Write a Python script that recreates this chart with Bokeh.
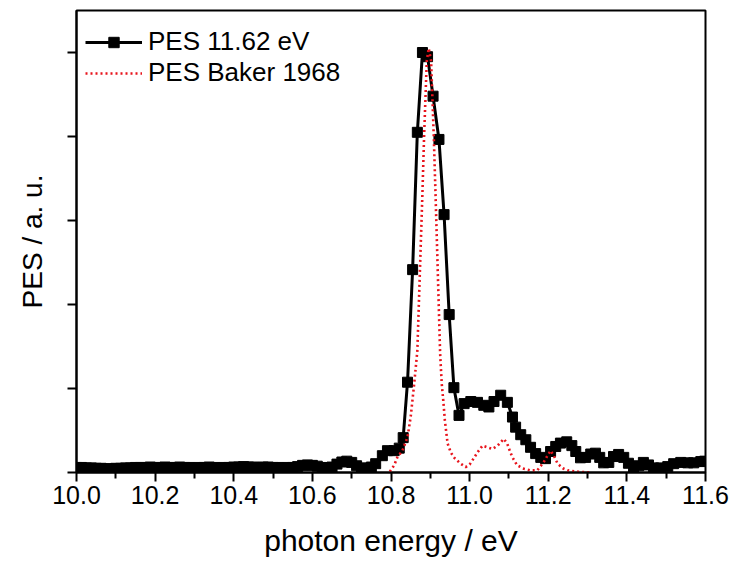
from bokeh.plotting import figure
from bokeh.models import FixedTicker, Legend, LegendItem, PrintfTickFormatter, CustomJSTickFormatter
from bokeh.embed import file_html
from bokeh.resources import INLINE

# ---- data: PES 11.62 eV (black squares) ----
pes_energy = [
    10.0, 10.0125, 10.025, 10.0375, 10.05, 10.0625, 10.075, 10.0875,
    10.1, 10.1125, 10.125, 10.1375, 10.15, 10.1625, 10.175, 10.1875,
    10.2, 10.2125, 10.225, 10.2375, 10.25, 10.2625, 10.275, 10.2875,
    10.3, 10.3125, 10.325, 10.3375, 10.35, 10.3625, 10.375, 10.3875,
    10.4, 10.4125, 10.425, 10.4375, 10.45, 10.4625, 10.475, 10.4875,
    10.5, 10.5125, 10.525, 10.5375, 10.55, 10.5625, 10.575, 10.5875,
    10.6, 10.6125, 10.625, 10.6375, 10.65, 10.6625, 10.675, 10.6875,
    10.7, 10.7125, 10.725, 10.7375, 10.75,
    10.761, 10.778, 10.791, 10.808, 10.821, 10.831, 10.842, 10.855,
    10.867, 10.880, 10.893, 10.907, 10.922, 10.935, 10.948, 10.960,
    10.973, 10.986, 11.003, 11.020, 11.036, 11.049, 11.062, 11.079,
    11.096, 11.109, 11.117, 11.130, 11.143, 11.155, 11.168, 11.181,
    11.193, 11.206, 11.219, 11.231, 11.247, 11.260, 11.270, 11.282,
    11.295, 11.308, 11.320, 11.331, 11.341, 11.354, 11.366, 11.379,
    11.392, 11.404, 11.417, 11.430, 11.442, 11.455, 11.468, 11.486,
    11.504, 11.519, 11.537, 11.555, 11.570, 11.588, 11.598,
]
pes_signal = [
    0.012, 0.012, 0.011, 0.011, 0.010, 0.010, 0.009, 0.009,
    0.010, 0.010, 0.011, 0.011, 0.012, 0.012, 0.012, 0.013,
    0.012, 0.012, 0.013, 0.012, 0.012, 0.013, 0.012, 0.012,
    0.011, 0.012, 0.012, 0.013, 0.012, 0.011, 0.012, 0.012,
    0.013, 0.013, 0.014, 0.013, 0.013, 0.012, 0.013, 0.013,
    0.012, 0.012, 0.011, 0.012, 0.012, 0.014, 0.017, 0.018,
    0.017, 0.015, 0.012, 0.011, 0.013, 0.020, 0.025, 0.027,
    0.024, 0.016, 0.011, 0.010, 0.013,
    0.021, 0.040, 0.052, 0.052, 0.058, 0.083, 0.215, 0.483,
    0.810, 1.000, 0.990, 0.896, 0.793, 0.614, 0.376, 0.202,
    0.136, 0.164, 0.169, 0.167, 0.160, 0.156, 0.169, 0.184,
    0.167, 0.132, 0.108, 0.090, 0.078, 0.060, 0.045, 0.036,
    0.033, 0.050, 0.062, 0.070, 0.073, 0.064, 0.050, 0.035,
    0.036, 0.044, 0.046, 0.036, 0.023, 0.024, 0.038, 0.043,
    0.036, 0.022, 0.012, 0.016, 0.024, 0.018, 0.011, 0.011,
    0.014, 0.021, 0.024, 0.023, 0.023, 0.026, 0.027,
]

# ---- data: PES Baker 1968 (red dotted) ----
baker_energy = [
    10.797, 10.808, 10.816, 10.829, 10.842, 10.850, 10.859, 10.867,
    10.880, 10.884, 10.891, 10.896, 10.902, 10.909, 10.913, 10.925,
    10.929, 10.933, 10.937, 10.944, 10.952, 10.960, 10.977, 10.990,
    11.000, 11.010, 11.020, 11.033, 11.045, 11.058, 11.071, 11.087,
    11.096, 11.102, 11.109, 11.121, 11.138, 11.155, 11.172, 11.188,
    11.198, 11.206, 11.214, 11.224, 11.237, 11.250, 11.275, 11.308,
]
baker_signal = [
    0.002, 0.017, 0.036, 0.052, 0.084, 0.132, 0.211, 0.290,
    0.667, 0.795, 0.980, 1.010, 0.980, 0.795, 0.671, 0.283,
    0.212, 0.171, 0.124, 0.069, 0.048, 0.036, 0.021, 0.013,
    0.019, 0.033, 0.048, 0.064, 0.060, 0.056, 0.064, 0.080,
    0.068, 0.052, 0.036, 0.017, 0.009, 0.005, 0.005, 0.024,
    0.040, 0.052, 0.040, 0.021, 0.010, 0.005, 0.002, 0.000,
]

x_major = [10.0, 10.2, 10.4, 10.6, 10.8, 11.0, 11.2, 11.4, 11.6]
x_minor = [10.1, 10.3, 10.5, 10.7, 10.9, 11.1, 11.3, 11.5]
y_major = [0.0, 0.2, 0.4, 0.6, 0.8, 1.0]

FONT = "Liberation Sans"

p = figure(width=740, height=566, x_range=(10.0, 11.6), y_range=(0.0, 1.1),
           output_backend="svg", toolbar_location=None,
           min_border_left=76, min_border_right=35, min_border_top=10, min_border_bottom=94)
p.grid.visible = False
p.outline_line_color = "black"
p.outline_line_width = 2
p.background_fill_color = "white"
p.border_fill_color = "white"

r_line = p.line(pes_energy, pes_signal, line_color="black", line_width=3)
r_sq = p.scatter(pes_energy, pes_signal, marker="square", size=10,
                 fill_color="black", line_color="black")
r_baker = p.line(baker_energy, baker_signal, line_color="#e8141c", line_width=2.6,
                 line_dash="2 3")

# x axis
xa = p.xaxis[0]
xa.ticker = FixedTicker(ticks=x_major, minor_ticks=x_minor)
xa.formatter = PrintfTickFormatter(format="%.1f")
xa.axis_line_width = 2
xa.major_tick_line_width = 2
xa.minor_tick_line_width = 2
xa.major_tick_in = 0
xa.major_tick_out = 9
xa.minor_tick_in = 0
xa.minor_tick_out = 6
xa.major_label_text_font = FONT
xa.major_label_text_font_size = "25px"
xa.major_label_text_color = "black"
xa.major_label_standoff = 4
xa.axis_label = "photon energy / eV"
xa.axis_label_text_font = FONT
xa.axis_label_text_font_size = "30px"
xa.axis_label_text_font_style = "normal"
xa.axis_label_text_color = "black"
xa.axis_label_standoff = 17

# y axis (ticks only, no tick labels)
ya = p.yaxis[0]
ya.ticker = FixedTicker(ticks=y_major, minor_ticks=[])
ya.formatter = CustomJSTickFormatter(code="return ''")
ya.axis_line_width = 2
ya.major_tick_line_width = 2
ya.major_tick_in = 0
ya.major_tick_out = 9
ya.major_label_standoff = 0
ya.axis_label = "PES / a. u."
ya.axis_label_text_font = FONT
ya.axis_label_text_font_size = "28px"
ya.axis_label_text_font_style = "normal"
ya.axis_label_text_color = "black"
ya.axis_label_standoff = 20

legend = Legend(
    items=[LegendItem(label="PES 11.62 eV", renderers=[r_line, r_sq]),
           LegendItem(label="PES Baker 1968", renderers=[r_baker])],
    location=(9, 384), orientation="vertical",
    padding=0, margin=0, spacing=-4,
    glyph_width=57, glyph_height=26, label_height=26, label_standoff=6,
    label_text_font=FONT, label_text_font_size="26px", label_text_color="black",
    border_line_alpha=0, background_fill_alpha=0,
)
p.add_layout(legend)

open("out.html", "w").write(file_html(p, INLINE))
